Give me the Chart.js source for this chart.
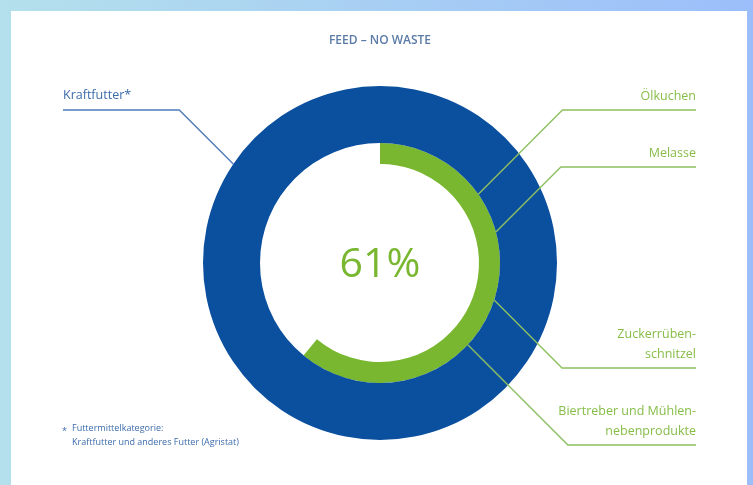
<!DOCTYPE html>
<html>
<head>
<meta charset="utf-8">
<script src="https://cdn.jsdelivr.net/npm/chart.js@4"></script>
<style>
  html, body { margin: 0; padding: 0; }
  body {
    width: 753px;
    height: 485px;
    overflow: hidden;
    position: relative;
    background: linear-gradient(to right, #b4e0ec, #9bbefa);
  }
  #card {
    position: absolute;
    left: 11px;
    top: 11px;
    width: 736px;
    height: 474px;
    background: #fff;
  }
  #chart { position: absolute; left: 0; top: 0; }
</style>
</head>
<body>
<div id="card"></div>
<canvas id="chart" width="753" height="485"></canvas>
<script>
const title = "FEED – NO WASTE";

// outer ring: all feed
const ringLabels = ["Kraftfutter*"];
const ringValues = [100];

// inner ring: share of by-products
const shareLabels = ["Nebenprodukte", "übriges"];
const shareValues = [61, 39];
const centerText = "61%";

const productLabels = [
  ["Ölkuchen"],
  ["Melasse"],
  ["Zuckerrüben-", "schnitzel"],
  ["Biertreber und Mühlen-", "nebenprodukte"],
];

const footnote = ["Futtermittelkategorie:", "Kraftfutter und anderes Futter (Agristat)"];

const BLUE = "#0b4f9f";
const GREEN = "#78b72f";
const GREEN_TEXT = "#86bd48";
const GREEN_LINE = "#8dc060";
const BLUE_TEXT = "#3d6cab";
const BLUE_LINE = "#4d7cbc";

// where the callout lines touch the rings (degrees clockwise from top) and the row they run on
const callouts = {
  right: { angles: [55, 75, 108, 133], rows: [110, 167, 368, 445], endX: 696 },
  left: { angles: [304], rows: [110], endX: 63 },
};

const calloutPlugin = {
  id: "callouts",
  afterDraw(chart) {
    const ctx = chart.ctx;
    const outer = chart.getDatasetMeta(0).data[0];
    const inner = chart.getDatasetMeta(1).data[0];
    const cx = outer.x, cy = outer.y;

    ctx.save();
    ctx.lineWidth = 1.4;

    // right side: by-products pointing at the green ring
    ctx.strokeStyle = GREEN_LINE;
    ctx.fillStyle = GREEN_TEXT;
    ctx.font = "12.5px 'Open Sans'";
    ctx.textAlign = "right";
    ctx.textBaseline = "alphabetic";
    callouts.right.angles.forEach((deg, i) => {
      const a = deg * Math.PI / 180;
      const r = inner.outerRadius;
      const px = cx + r * Math.sin(a);
      const py = cy - r * Math.cos(a);
      const row = callouts.right.rows[i];
      const kx = px + Math.abs(row - py);
      ctx.beginPath();
      ctx.moveTo(px, py);
      ctx.lineTo(kx, row);
      ctx.lineTo(callouts.right.endX, row);
      ctx.stroke();
      const lines = productLabels[i];
      lines.forEach((t, j) => {
        ctx.fillText(t, callouts.right.endX, row - 10 - (lines.length - 1 - j) * 20);
      });
    });

    // left side: Kraftfutter pointing at the blue ring
    ctx.strokeStyle = BLUE_LINE;
    ctx.fillStyle = BLUE_TEXT;
    ctx.textAlign = "left";
    callouts.left.angles.forEach((deg, i) => {
      const a = deg * Math.PI / 180;
      const r = outer.outerRadius;
      const px = cx + r * Math.sin(a);
      const py = cy - r * Math.cos(a);
      const row = callouts.left.rows[i];
      const kx = px - Math.abs(py - row);
      ctx.beginPath();
      ctx.moveTo(px, py);
      ctx.lineTo(kx, row);
      ctx.lineTo(callouts.left.endX, row);
      ctx.stroke();
      ctx.font = "500 12.5px 'Open Sans'";
      ctx.fillText(ringLabels[i], callouts.left.endX, row - 11);
    });

    // centre value
    ctx.fillStyle = GREEN;
    ctx.font = "400 41px 'Open Sans'";
    ctx.textAlign = "center";
    ctx.textBaseline = "middle";
    ctx.fillText(centerText, cx, cy + 2);

    // footnote
    ctx.fillStyle = BLUE_TEXT;
    ctx.font = "9px 'Open Sans'";
    ctx.textAlign = "left";
    ctx.textBaseline = "alphabetic";
    ctx.fillText("*", 62, 434);
    ctx.fillText(footnote[0], 72, 431);
    ctx.fillText(footnote[1], 72, 445);

    ctx.restore();
  },
};

new Chart(document.getElementById("chart"), {
  type: "doughnut",
  data: {
    labels: shareLabels,
    datasets: [
      {
        label: ringLabels[0],
        data: ringValues,
        backgroundColor: [BLUE],
        borderWidth: 0,
        weight: 57,
      },
      {
        label: "Anteil",
        data: shareValues,
        backgroundColor: [GREEN, "rgba(0,0,0,0)"],
        borderWidth: 0,
        weight: 21,
      },
    ],
  },
  options: {
    responsive: false,
    animation: false,
    events: [],
    cutout: 99,
    layout: { padding: { left: 203, right: 196, top: 20, bottom: 45 } },
    plugins: {
      legend: { display: false },
      tooltip: { enabled: false },
      title: {
        display: true,
        text: title,
        color: "#5b7ba6",
        font: { family: "'Open Sans'", size: 12, weight: "600" },
        padding: { top: 13, bottom: 38.6 },
      },
    },
  },
  plugins: [calloutPlugin],
});
</script>
</body>
</html>
